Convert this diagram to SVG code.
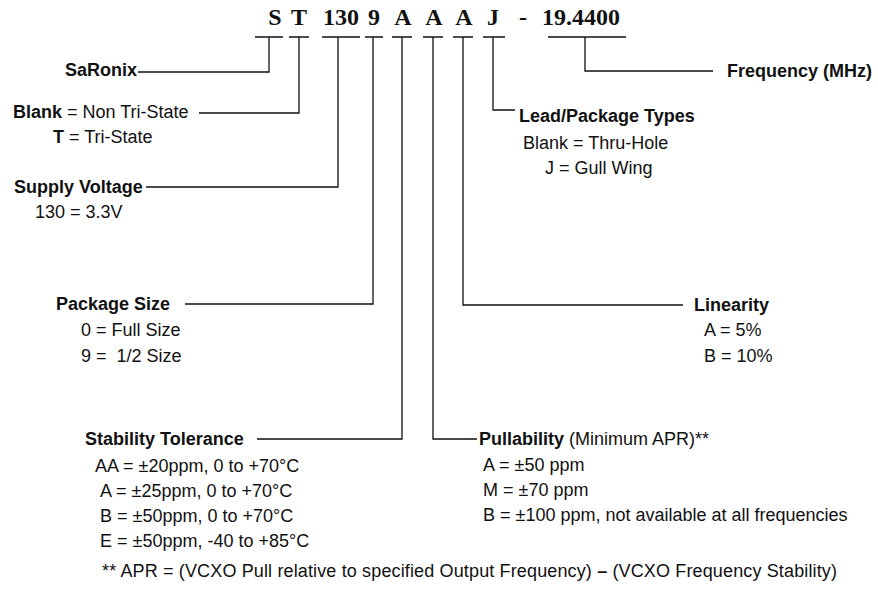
<svg xmlns="http://www.w3.org/2000/svg" width="878" height="592" viewBox="0 0 878 592">
<style>
.code{font-family:"Liberation Serif","Times New Roman",serif;font-weight:bold;font-size:24px;fill:#111}
.t{font-family:"Liberation Sans",Arial,sans-serif;font-size:18px;fill:#111;white-space:pre}
.b{font-weight:bold}
.ln{fill:none;stroke:#111;stroke-width:1.3}
</style>
<rect width="878" height="592" fill="#fff"/>
<g id="code">
<text class="code" x="275" y="25" text-anchor="middle">S</text>
<text class="code" x="299" y="25" text-anchor="middle">T</text>
<text class="code" x="341" y="25" text-anchor="middle">130</text>
<text class="code" x="374" y="25" text-anchor="middle">9</text>
<text class="code" x="403" y="25" text-anchor="middle">A</text>
<text class="code" x="434" y="25" text-anchor="middle">A</text>
<text class="code" x="464" y="25" text-anchor="middle">A</text>
<text class="code" x="493" y="25" text-anchor="middle">J</text>
<text class="code" x="523" y="25" text-anchor="middle">-</text>
<text class="code" x="542" y="25">19.4400</text>
</g>
<g id="connectors">
<path class="ln" d="M255 37H283M269 37V72H138"/>
<path class="ln" d="M289 37H309M299 37V113H199"/>
<path class="ln" d="M322 37H360M338 37V187H146"/>
<path class="ln" d="M365 37H383M373 37V304H185"/>
<path class="ln" d="M392 37H412M402 37V439H257"/>
<path class="ln" d="M423 37H443M433 37V439H477"/>
<path class="ln" d="M453 37H473M463 37V305H683"/>
<path class="ln" d="M483 37H505M493 37V110H515"/>
<path class="ln" d="M548 37H626M585 37V71H713"/>
</g>
<g id="saronix">
<text class="t b" x="137" y="76" text-anchor="end">SaRonix</text>
</g>
<g id="tristate">
<text class="t" x="13" y="118"><tspan class="b">Blank</tspan> = Non Tri-State</text>
<text class="t" x="53" y="143"><tspan class="b">T</tspan> = Tri-State</text>
</g>
<g id="supply">
<text class="t b" x="14" y="193">Supply Voltage</text>
<text class="t" x="35" y="218">130 = 3.3V</text>
</g>
<g id="package">
<text class="t b" x="56" y="310">Package Size</text>
<text class="t" x="81" y="336">0 = Full Size</text>
<text class="t" x="81" y="362">9 =  1/2 Size</text>
</g>
<g id="stability">
<text class="t b" x="85" y="445">Stability Tolerance</text>
<text class="t" x="95" y="472">AA = ±20ppm, 0 to +70°C</text>
<text class="t" x="100" y="497">A = ±25ppm, 0 to +70°C</text>
<text class="t" x="100" y="522">B = ±50ppm, 0 to +70°C</text>
<text class="t" x="100" y="547">E = ±50ppm, -40 to +85°C</text>
</g>
<g id="pullability">
<text class="t" x="479" y="445"><tspan class="b">Pullability</tspan> (Minimum APR)**</text>
<text class="t" x="483" y="471">A = ±50 ppm</text>
<text class="t" x="483" y="496">M = ±70 ppm</text>
<text class="t" x="483" y="521">B = ±100 ppm, not available at all frequencies</text>
</g>
<g id="linearity">
<text class="t b" x="694" y="311">Linearity</text>
<text class="t" x="704" y="336">A = 5%</text>
<text class="t" x="704" y="362">B = 10%</text>
</g>
<g id="lead">
<text class="t b" x="519" y="122">Lead/Package Types</text>
<text class="t" x="523" y="149">Blank = Thru-Hole</text>
<text class="t" x="545" y="174">J = Gull Wing</text>
</g>
<g id="frequency">
<text class="t b" x="727" y="77">Frequency (MHz)</text>
</g>
<g id="footnote">
<text class="t" x="102" y="577" textLength="735">** APR = (VCXO Pull relative to specified Output Frequency) <tspan class="b">–</tspan> (VCXO Frequency Stability)</text>
</g>
</svg>
